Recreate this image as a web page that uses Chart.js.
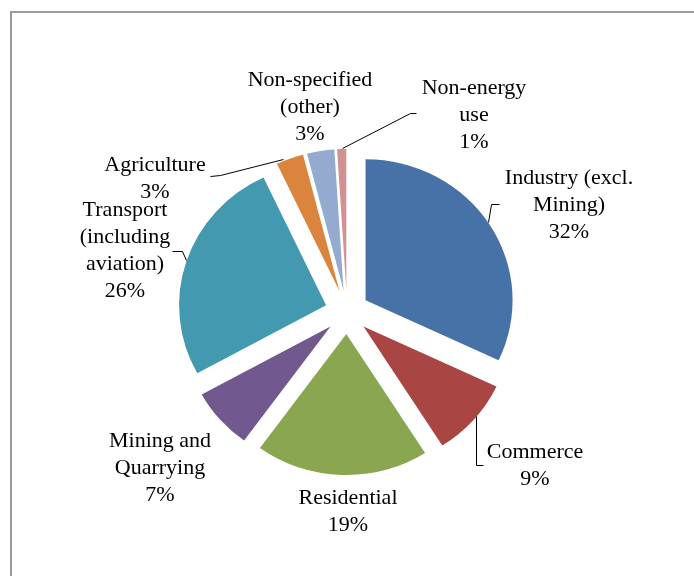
<!DOCTYPE html>
<html>
<head>
<meta charset="utf-8">
<script src="https://cdn.jsdelivr.net/npm/chart.js@4.4.1/dist/chart.umd.min.js"></script>
<style>
  html, body { margin: 0; padding: 0; background: #ffffff; }
  canvas { display: block; }
</style>
</head>
<body>
<canvas id="c" width="694" height="576"></canvas>
<script>
// Final energy consumption by sector, share of total (%)
const categories = [
  ['Industry (excl.', 'Mining)'],
  ['Commerce'],
  ['Residential'],
  ['Mining and', 'Quarrying'],
  ['Transport', '(including', 'aviation)'],
  ['Agriculture'],
  ['Non-specified', '(other)'],
  ['Non-energy', 'use']
];
const shares = [32, 9, 19, 7, 26, 3, 3, 1];
const sliceColors = ['#4672A7', '#A94542', '#8AA650', '#71598F', '#4299B0', '#DB843D', '#94AACE', '#D29190'];

// Label placement (centre x, centre y of first line) and leader lines
const labelAnchors = [[569, 178], [535, 452], [348, 498], [160, 441], [125, 210], [155, 165], [310, 80], [474, 88]];
const lineGap = 27;
const leaders = [
  [[488, 222], [491, 204], [499, 204]],
  [[476, 416], [476, 465], [483, 465]],
  null,
  null,
  [[172, 251], [182, 251], [186, 260]],
  [[210, 176], [220, 175], [283, 159]],
  null,
  [[342, 148], [410, 113], [416, 113]]
];

const explode = 22;        // distance each slice is pulled out
const yScale = 141 / 147;  // slightly flattened pie

const frame = {
  id: 'frame',
  beforeDraw(chart) {
    const ctx = chart.ctx;
    ctx.save();
    ctx.fillStyle = '#ffffff';
    ctx.fillRect(0, 0, chart.width, chart.height);
    ctx.fillStyle = '#9a9a9a';
    ctx.fillRect(10, 11, chart.width, 2);
    ctx.fillRect(10, 11, 2, chart.height);
    ctx.restore();
  }
};

const explodedSlices = {
  id: 'explodedSlices',
  beforeDatasetDraw(chart, args) {
    const ctx = chart.ctx;
    args.meta.data.forEach(arc => {
      const mid = (arc.startAngle + arc.endAngle) / 2;
      ctx.save();
      ctx.translate(arc.x + Math.cos(mid) * explode, arc.y + Math.sin(mid) * explode);
      ctx.scale(1, yScale);
      ctx.translate(-arc.x, -arc.y);
      arc.draw(ctx);
      ctx.restore();
    });
    return false;
  }
};

const sliceLabels = {
  id: 'sliceLabels',
  afterDraw(chart) {
    const ctx = chart.ctx;
    ctx.save();
    ctx.strokeStyle = '#000000';
    ctx.lineWidth = 1;
    leaders.forEach(pts => {
      if (!pts) return;
      ctx.beginPath();
      pts.forEach((p, k) => k ? ctx.lineTo(p[0] + 0.5, p[1] + 0.5) : ctx.moveTo(p[0] + 0.5, p[1] + 0.5));
      ctx.stroke();
    });
    ctx.fillStyle = '#000000';
    ctx.font = '22px "Liberation Serif", "Times New Roman", serif';
    ctx.textAlign = 'center';
    ctx.textBaseline = 'middle';
    chart.data.labels.forEach((name, i) => {
      const lines = name.concat([chart.data.datasets[0].data[i] + '%']);
      const [x, y] = labelAnchors[i];
      lines.forEach((t, k) => ctx.fillText(t, x, y + k * lineGap));
    });
    ctx.restore();
  }
};

new Chart(document.getElementById('c'), {
  type: 'pie',
  data: {
    labels: categories,
    datasets: [{
      data: shares,
      backgroundColor: sliceColors,
      borderWidth: 0
    }]
  },
  options: {
    responsive: false,
    animation: false,
    events: [],
    radius: 147,
    layout: { padding: { top: 48, bottom: 0, left: 0, right: 0 } },
    plugins: {
      legend: { display: false },
      tooltip: { enabled: false }
    }
  },
  plugins: [frame, explodedSlices, sliceLabels]
});
</script>
</body>
</html>
